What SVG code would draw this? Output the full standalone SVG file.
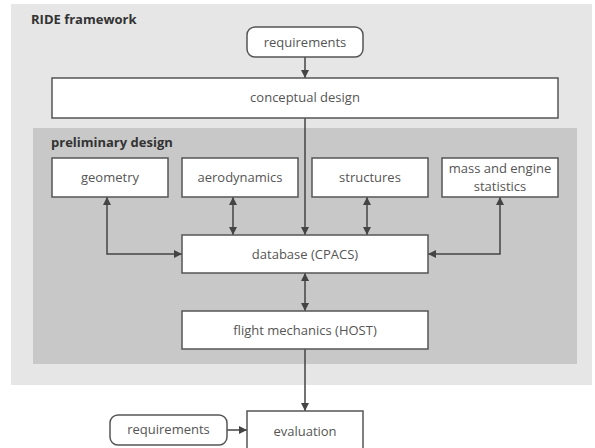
<svg xmlns="http://www.w3.org/2000/svg" width="595" height="448" viewBox="0 0 595 448">
<defs>
<marker id="ah" viewBox="0 0 10 10" refX="10" refY="5" markerWidth="8" markerHeight="8" markerUnits="userSpaceOnUse" orient="auto-start-reverse">
<path d="M0,0 L10,5 L0,10 z" fill="#444"/>
</marker>
<style>
.box{fill:#fff;stroke:#555;stroke-width:1.5}
.t{font-family:"Open Sans","Noto Sans",sans-serif;font-size:13px;fill:#555;text-anchor:middle}
.h{font-family:"Open Sans","Noto Sans",sans-serif;font-size:13px;font-weight:bold;fill:#333}
.c{fill:none;stroke:#444;stroke-width:1.5}
</style>
</defs>
<rect width="595" height="448" fill="#fff"/>
<g id="ride-framework">
<rect x="11" y="4" width="581" height="381" fill="#e6e6e6"/>
<text class="h" x="31" y="24">RIDE framework</text>
</g>
<g id="preliminary-design">
<rect x="33" y="128" width="544" height="236" fill="#c8c8c8"/>
<text class="h" x="51" y="147">preliminary design</text>
</g>
<g id="connectors">
<path class="c" d="M305,57 V78" marker-end="url(#ah)"/>
<path class="c" d="M305,118 V235" marker-end="url(#ah)"/>
<path class="c" d="M107,197 V254 H182" marker-start="url(#ah)" marker-end="url(#ah)"/>
<path class="c" d="M233,197 V235" marker-start="url(#ah)" marker-end="url(#ah)"/>
<path class="c" d="M367,197 V235" marker-start="url(#ah)" marker-end="url(#ah)"/>
<path class="c" d="M500,197 V254 H428" marker-start="url(#ah)" marker-end="url(#ah)"/>
<path class="c" d="M305,273 V311" marker-start="url(#ah)" marker-end="url(#ah)"/>
<path class="c" d="M305,349 V411" marker-end="url(#ah)"/>
<path class="c" d="M227,430 H247" marker-end="url(#ah)"/>
</g>
<g id="requirements-top">
<rect class="box" x="247" y="27" width="116" height="30" rx="8"/>
<text class="t" x="305" y="46.5">requirements</text>
</g>
<g id="conceptual-design">
<rect class="box" x="52" y="78" width="506" height="40"/>
<text class="t" x="305" y="102">conceptual design</text>
</g>
<g id="geometry">
<rect class="box" x="52" y="158" width="116" height="39"/>
<text class="t" x="110" y="182">geometry</text>
</g>
<g id="aerodynamics">
<rect class="box" x="182" y="158" width="116" height="39"/>
<text class="t" x="240" y="182">aerodynamics</text>
</g>
<g id="structures">
<rect class="box" x="312" y="158" width="116" height="39"/>
<text class="t" x="370" y="182">structures</text>
</g>
<g id="mass-engine-statistics">
<rect class="box" x="442" y="158" width="116" height="39"/>
<text class="t" x="500" y="173">mass and engine</text>
<text class="t" x="500" y="190.5">statistics</text>
</g>
<g id="database">
<rect class="box" x="182" y="235" width="246" height="38"/>
<text class="t" x="305" y="259">database (CPACS)</text>
</g>
<g id="flight-mechanics">
<rect class="box" x="182" y="311" width="246" height="38"/>
<text class="t" x="305" y="335">flight mechanics (HOST)</text>
</g>
<g id="requirements-bottom">
<rect class="box" x="110" y="415" width="117" height="30" rx="8"/>
<text class="t" x="168.5" y="434">requirements</text>
</g>
<g id="evaluation">
<rect class="box" x="247" y="411" width="116" height="45"/>
<text class="t" x="305" y="436">evaluation</text>
</g>
</svg>
